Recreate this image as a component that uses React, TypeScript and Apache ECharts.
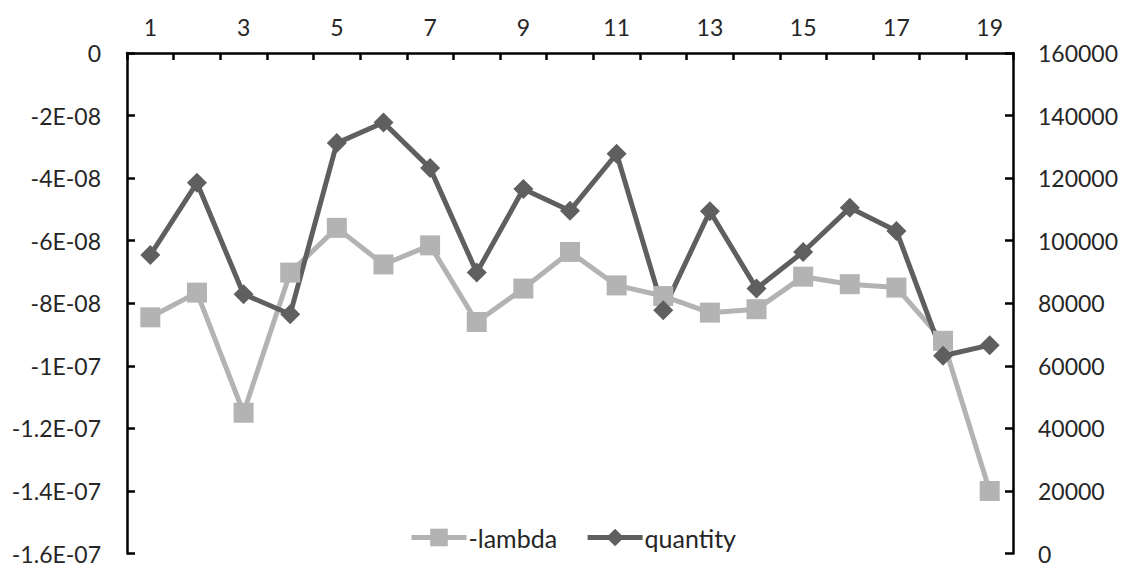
import React, { useEffect, useRef } from "react";
import * as echarts from "echarts";

const categories = ["1","2","3","4","5","6","7","8","9","10","11","12","13","14","15","16","17","18","19"];
const lambdaValues = [-8.45e-8,-7.66e-8,-1.15e-7,-7.02e-8,-5.59e-8,-6.76e-8,-6.15e-8,-8.6e-8,-7.53e-8,-6.36e-8,-7.43e-8,-7.77e-8,-8.3e-8,-8.19e-8,-7.15e-8,-7.39e-8,-7.5e-8,-9.2e-8,-1.4e-7];
const quantityValues = [95400,118500,82900,76500,131200,137800,123200,89800,116500,109600,127800,77800,109400,84700,96400,110500,103100,63200,66600];
const leftTickLabels = ["0","-2E-08","-4E-08","-6E-08","-8E-08","-1E-07","-1.2E-07","-1.4E-07","-1.6E-07"];
const rightTickLabels = ["0","20000","40000","60000","80000","100000","120000","140000","160000"];

const FONT = "Lato";
const TEXT = "#262626";

export default function App() {
  const ref = useRef<HTMLDivElement>(null);
  useEffect(() => {
    if (!ref.current) return;
    const chart = echarts.init(ref.current, null, { renderer: "svg" });
    const axisLine = { show: true, lineStyle: { color: "#000", width: 2.5 } };
    chart.setOption({
      animation: false,
      backgroundColor: "#fff",
      textStyle: { fontFamily: FONT },
      grid: { left: 127, right: 110, top: 53, bottom: 9, containLabel: false },
      legend: {
        left: 404,
        top: 520,
        itemWidth: 55,
        itemHeight: 22,
        itemGap: 28,
        lineStyle: { width: 5 },
        textStyle: { fontFamily: FONT, fontSize: 25, color: TEXT, padding: [0, 0, 0, -3] },
        data: ["-lambda", "quantity"],
      },
      xAxis: {
        type: "category",
        position: "top",
        data: categories,
        boundaryGap: true,
        axisLine,
        axisTick: { show: true, inside: true, length: 7, interval: 0, lineStyle: { color: "#000", width: 2.5 } },
        axisLabel: { interval: 1, margin: 15, fontFamily: FONT, fontSize: 23, color: TEXT },
        splitLine: { show: false },
      },
      yAxis: [
        {
          type: "value",
          min: -1.6e-7,
          max: 0,
          interval: 2e-8,
          position: "left",
          axisLine,
          axisTick: { show: true, inside: true, length: 8, lineStyle: { color: "#000", width: 2.5 } },
          axisLabel: {
            margin: 26,
            fontFamily: FONT,
            fontSize: 23,
            color: TEXT,
            formatter: (v: number) => leftTickLabels[Math.round(-v / 2e-8)] ?? "",
          },
          splitLine: { show: false },
        },
        {
          type: "value",
          min: 0,
          max: 160000,
          interval: 20000,
          position: "right",
          axisLine,
          axisTick: { show: true, inside: true, length: 8, lineStyle: { color: "#000", width: 2.5 } },
          axisLabel: {
            margin: 25,
            fontFamily: FONT,
            fontSize: 23,
            color: TEXT,
            formatter: (v: number) => rightTickLabels[Math.round(v / 20000)] ?? "",
          },
          splitLine: { show: false },
        },
      ],
      series: [
        {
          name: "-lambda",
          type: "line",
          yAxisIndex: 0,
          data: lambdaValues,
          symbol: "rect",
          symbolSize: 20,
          lineStyle: { color: "#b3b3b3", width: 5 },
          itemStyle: { color: "#b3b3b3" },
          emphasis: { disabled: true },
        },
        {
          name: "quantity",
          type: "line",
          yAxisIndex: 1,
          data: quantityValues,
          symbol: "diamond",
          symbolSize: 20,
          lineStyle: { color: "#5f5f5f", width: 5 },
          itemStyle: { color: "#5f5f5f" },
          emphasis: { disabled: true },
        },
      ],
    });
    return () => chart.dispose();
  }, []);
  return (
    <div
      ref={ref}
      style={{ position: "fixed", left: 0, top: 0, width: 1123, height: 565, background: "#fff" }}
    />
  );
}
